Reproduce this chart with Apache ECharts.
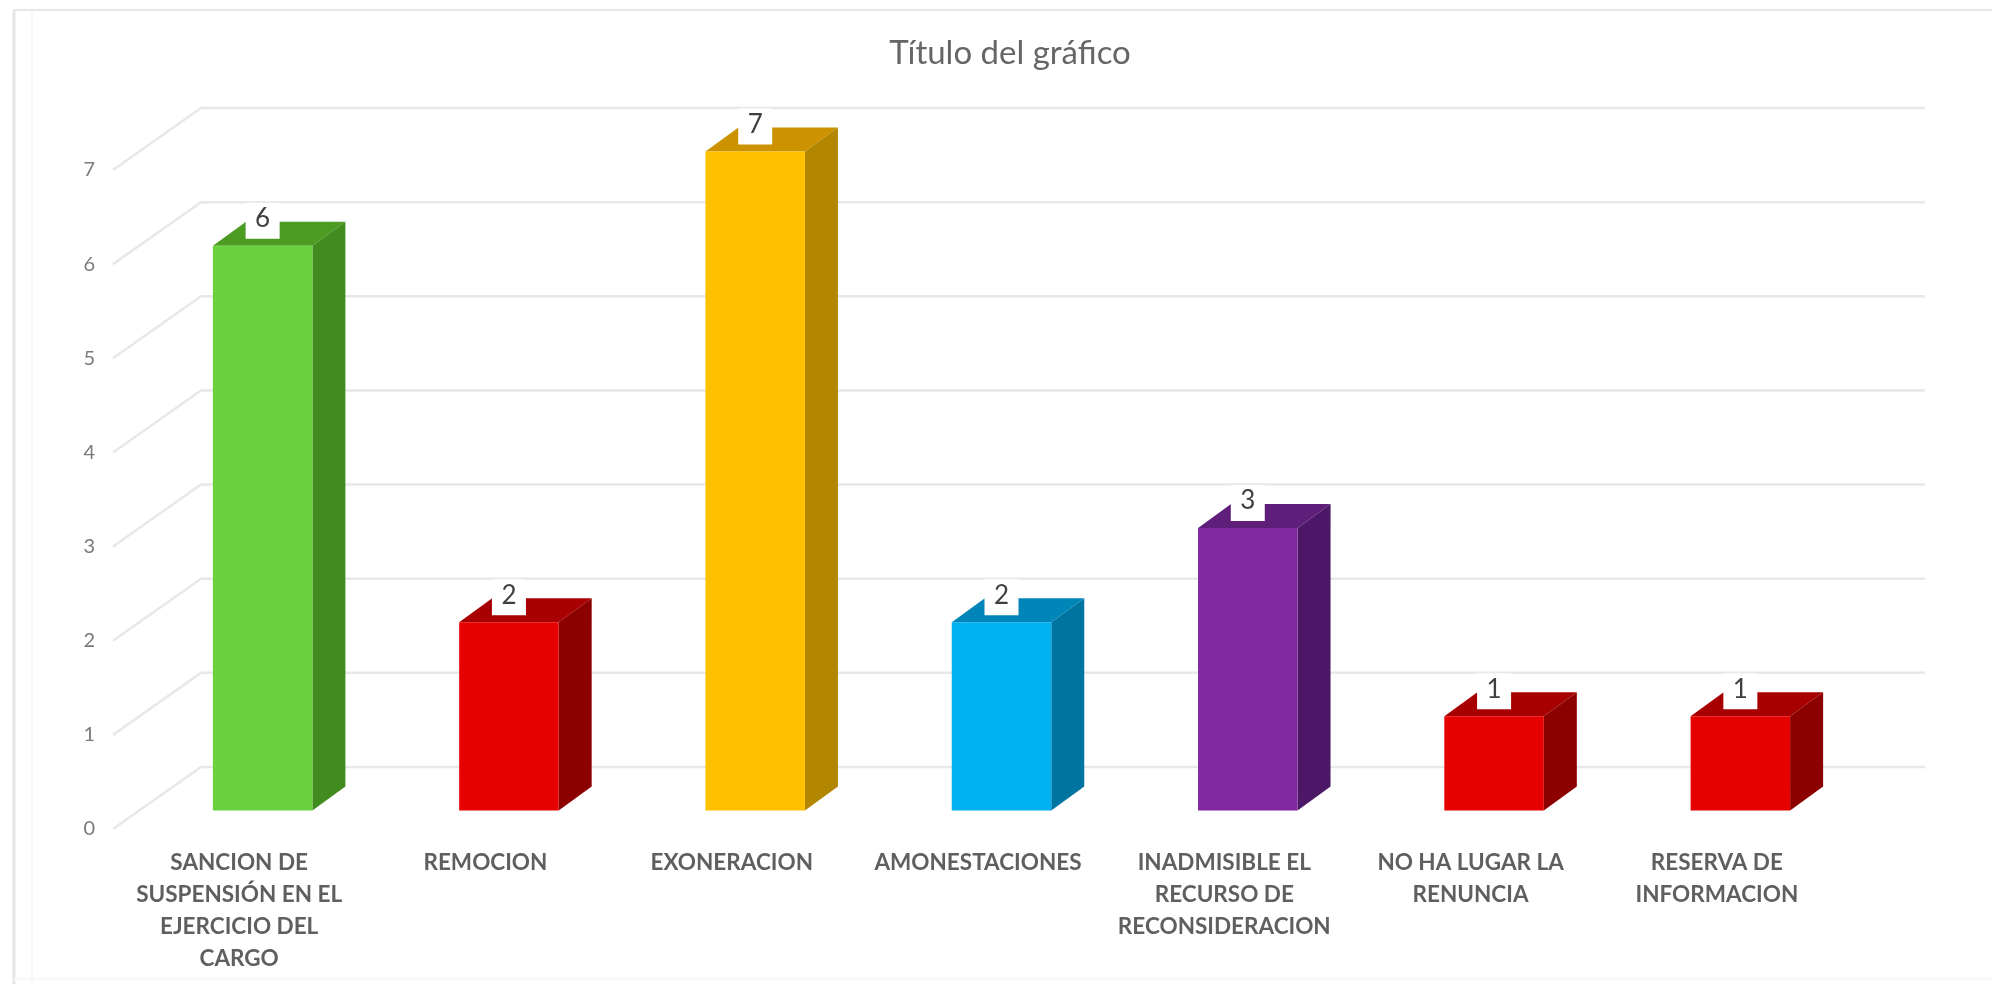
<!DOCTYPE html>
<html>
<head>
<meta charset="UTF-8">
<title>Título del gráfico</title>
<script src="https://cdn.jsdelivr.net/npm/echarts@6/dist/echarts.min.js"></script>
<style type="text/css">
   html,body{
      margin:0;
      padding:0;
      background-color:#ffffff;
   }
   #container{
      width:1992px;
      height:984px;
   }
</style>
</head>
<body>
<div id="container"></div>
<script type="text/javascript">
var titleText = 'Título del gráfico';
var categories = [
    'SANCION DE\nSUSPENSIÓN EN EL\nEJERCICIO DEL\nCARGO',
    'REMOCION',
    'EXONERACION',
    'AMONESTACIONES',
    'INADMISIBLE EL\nRECURSO DE\nRECONSIDERACION',
    'NO HA LUGAR LA\nRENUNCIA',
    'RESERVA DE\nINFORMACION'
];
var values = [6, 2, 7, 2, 3, 1, 1];
var yTicks = [0, 1, 2, 3, 4, 5, 6, 7];

var frontColors = ['#6bd23f', '#e60000', '#ffc000', '#00b0f0', '#7f28a0', '#e60000', '#e60000'];
var topColors = ['#4c9c24', '#a80000', '#cc9200', '#0085b8', '#5f1e7a', '#a80000', '#a80000'];
var sideColors = ['#418c1e', '#8c0000', '#b38600', '#0074a0', '#4c1766', '#8c0000', '#8c0000'];

var fontName = 'Lato, "Open Sans", sans-serif';

// offsets of the fake 3D box, in pixels
var barShiftX = 23.5, barShiftY = -18.5;
var barWidth = 99.5, depthX = 33, depthY = 24;
var wallX = 85, wallY = -62;

var dom = document.getElementById("container");
var myChart = echarts.init(dom);

function renderWall(params, api){
    var front = api.coord([0, api.value(1)]);
    var x0 = params.coordSys.x;
    var x1 = x0 + params.coordSys.width + wallX;
    var y = front[1];
    return {
        type: 'polyline',
        shape: { points: [[x0 - 3, y], [x0 + wallX, y + wallY], [x1, y + wallY]] },
        style: { fill: null, stroke: '#e8e8e8', lineWidth: 2.5 },
        silent: true
    };
}

function renderBar(params, api){
    var i = api.value(0);
    var top = api.coord([i, api.value(1)]);
    var base = api.coord([i, 0]);
    var l = top[0] + barShiftX - barWidth / 2;
    var r = l + barWidth;
    var t = top[1] + barShiftY;
    var b = base[1] + barShiftY;
    var cx = (l + r) / 2;
    return {
        type: 'group',
        children: [
            { type: 'polygon', shape: { points: [[l, t], [l + depthX, t - depthY], [r + depthX, t - depthY], [r, t]] },
              style: { fill: topColors[i] } },
            { type: 'polygon', shape: { points: [[r, t], [r + depthX, t - depthY], [r + depthX, b - depthY], [r, b]] },
              style: { fill: sideColors[i] } },
            { type: 'rect', shape: { x: l, y: t, width: barWidth, height: b - t },
              style: { fill: frontColors[i] } },
            { type: 'rect', shape: { x: cx - 17, y: t - 43, width: 34, height: 36 },
              style: { fill: '#ffffff' } },
            { type: 'text', x: cx, y: t - 27,
              style: { text: String(api.value(1)), fill: '#404040', font: '26px ' + fontName, align: 'center', verticalAlign: 'middle' } }
        ]
    };
}

var wallData = [];
for(var i=0;i<yTicks.length;i++){
    wallData[i] = [0, yTicks[i]];
}
var barData = [];
for(var i=0;i<values.length;i++){
    barData[i] = [i, values[i]];
}

var option = {
    animation: false,
    backgroundColor: '#ffffff',
    title: {
        text: titleText,
        left: 1005,
        top: 32,
        textAlign: 'center',
        textStyle: { fontFamily: fontName, fontSize: 33, fontWeight: 'normal', color: '#666666' }
    },
    grid: { left: 116, top: 170, width: 1724, height: 659 },
    xAxis: {
        type: 'category',
        data: categories,
        axisLine: { show: false },
        axisTick: { show: false },
        splitLine: { show: false },
        axisLabel: {
            interval: 0,
            margin: 18,
            fontFamily: fontName,
            fontSize: 22.5,
            fontWeight: 'bold',
            lineHeight: 32,
            color: '#5f5f5f'
        }
    },
    yAxis: {
        type: 'value',
        min: 0,
        max: 7,
        interval: 1,
        axisLine: { show: false },
        axisTick: { show: false },
        splitLine: { show: false },
        axisLabel: { margin: 21, fontFamily: fontName, fontSize: 20, color: '#7a7a7a' }
    },
    graphic: [
        { type: 'line', shape: { x1: 14, y1: 10, x2: 1992, y2: 10 },
          style: { stroke: '#e6e6e6', lineWidth: 2 }, silent: true, z: -1 },
        { type: 'line', shape: { x1: 14, y1: 10, x2: 14, y2: 984 },
          style: { stroke: '#e6e6e6', lineWidth: 3 }, silent: true, z: -1 },
        { type: 'line', shape: { x1: 32, y1: 12, x2: 32, y2: 984 },
          style: { stroke: '#f7f7f7', lineWidth: 2 }, silent: true, z: -1 },
        { type: 'line', shape: { x1: 14, y1: 979, x2: 1992, y2: 979 },
          style: { stroke: '#f7f7f7', lineWidth: 3 }, silent: true, z: -1 }
    ],
    series: [
        { type: 'custom', data: wallData, renderItem: renderWall, encode: { x: 0, y: 1 }, clip: false, z: 1 },
        { type: 'custom', data: barData, renderItem: renderBar, encode: { x: 0, y: 1 }, clip: false, z: 2 }
    ]
};
myChart.setOption(option, true);
</script>
</body>
</html>
